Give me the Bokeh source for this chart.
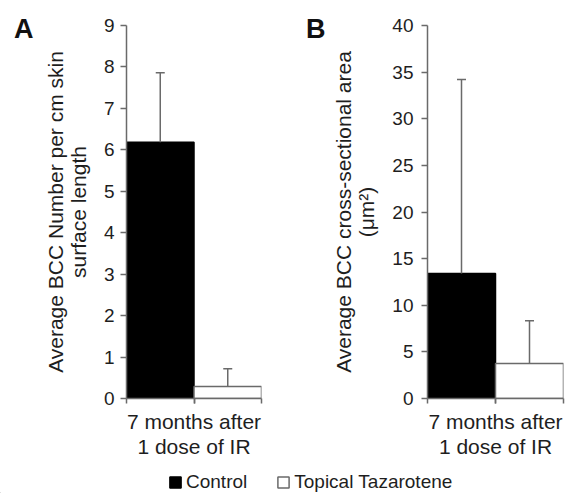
from bokeh.plotting import figure
from bokeh.models import (Range1d, FixedTicker, ColumnDataSource, Whisker, TeeHead,
                          Legend, LegendItem, LinearAxis)
from bokeh.layouts import column, row
from bokeh.embed import file_html
from bokeh.resources import INLINE

# ---- data ----
groups = ["Control", "Topical Tazarotene"]
category_label = "7 months after\n1 dose of IR"
a_mean = [6.18, 0.29]
a_sd = [1.68, 0.43]
b_mean = [13.4, 3.75]
b_sd = [20.8, 4.6]
a_ticks = [0, 1, 2, 3, 4, 5, 6, 7, 8, 9]
b_ticks = [0, 5, 10, 15, 20, 25, 30, 35, 40]
a_label = "Average BCC Number per cm skin\nsurface length"
b_label = "Average BCC cross-sectional area\n(\u03bcm\u00b2)"
panel_letters = ["A", "B"]
fill_colors = ["#000000", "#ffffff"]
edge_colors = ["#000000", "#6a6a6a"]

FONT = "Liberation Sans"
TXT = "#1e1e1e"
AX = "#6a6a6a"
FIG_H = 468


def make_source(mean, sd):
    return ColumnDataSource(dict(
        x=[i + 0.5 for i in range(len(groups))],
        mean=mean,
        top=[m + s for m, s in zip(mean, sd)],
        fill=fill_colors,
        edge=edge_colors,
        name=groups,
    ))


def panel(mean, sd, ticks, ylabel, letter, width, bl, br, bt,
          label_standoff, tick_standoff, letter_standoff):
    src = make_source(mean, sd)
    p = figure(width=width, height=FIG_H, x_range=Range1d(0, len(groups)),
               y_range=Range1d(ticks[0], ticks[-1]), toolbar_location=None,
               output_backend="svg", min_border_left=bl, min_border_right=br,
               min_border_top=bt, min_border_bottom=FIG_H - bt - 374)
    p.outline_line_color = None
    p.grid.visible = False
    p.vbar(x="x", top="mean", bottom=0, width=1.0, source=src,
           fill_color="fill", line_color="edge", line_width=1.5)
    w = Whisker(source=src, base="x", lower="mean", upper="top", dimension="height",
                line_color=AX, line_width=1.5, lower_head=None,
                upper_head=TeeHead(size=9, line_color=AX, line_width=1.5),
                level="overlay")
    p.add_layout(w)

    # x axis: tick marks at bar edges, one centred category label
    xa = p.xaxis[0]
    xa.ticker = FixedTicker(ticks=[len(groups) / 2],
                            minor_ticks=list(range(len(groups) + 1)))
    xa.major_label_overrides = {len(groups) / 2: category_label}
    xa.major_label_text_font = FONT
    xa.major_label_text_font_size = "21px"
    xa.major_label_text_line_height = 1.12
    xa.major_label_text_color = TXT
    xa.major_label_standoff = 6
    xa.major_tick_out = 5
    xa.major_tick_in = 0
    xa.minor_tick_out = 5
    xa.minor_tick_in = 0
    xa.axis_line_color = AX
    xa.axis_line_width = 1.5
    xa.major_tick_line_color = AX
    xa.major_tick_line_width = 1.5
    xa.minor_tick_line_color = AX
    xa.minor_tick_line_width = 1.5

    ya = p.yaxis[0]
    ya.ticker = FixedTicker(ticks=ticks)
    ya.minor_tick_line_color = None
    ya.major_tick_out = 6
    ya.major_tick_in = 0
    ya.axis_line_color = AX
    ya.axis_line_width = 1.5
    ya.major_tick_line_color = AX
    ya.major_tick_line_width = 1.5
    ya.major_label_text_font = FONT
    ya.major_label_text_font_size = "19px"
    ya.major_label_text_color = TXT
    ya.major_label_standoff = tick_standoff
    ya.axis_label = ylabel
    ya.axis_label_text_font = FONT
    ya.axis_label_text_font_size = "21px"
    ya.axis_label_text_font_style = "normal"
    ya.axis_label_text_line_height = 1.0
    ya.axis_label_text_color = TXT
    ya.axis_label_standoff = label_standoff

    # panel letter: outer left axis carrying a single label at the top
    p.extra_y_ranges = {"letter": Range1d(0, 1)}
    la = LinearAxis(y_range_name="letter", ticker=FixedTicker(ticks=[0.99]),
                    major_label_overrides={0.99: letter})
    la.axis_line_color = None
    la.major_tick_line_color = None
    la.minor_tick_line_color = None
    la.major_tick_out = 0
    la.major_tick_in = 0
    la.major_label_standoff = letter_standoff
    la.major_label_text_font = FONT
    la.major_label_text_font_size = "27px"
    la.major_label_text_font_style = "bold"
    la.major_label_text_color = "#111111"
    p.add_layout(la, "left")
    return p, src


pA, srcA = panel(a_mean, a_sd, a_ticks, a_label, panel_letters[0], 290, 126, 29, 24,
                 11, 6, 7)
pB, srcB = panel(b_mean, b_sd, b_ticks, b_label, panel_letters[1], 284, 137, 11, 25,
                 11, 8, 4)

# legend strip (same bars, drawn out of view, feed the legend glyphs)
pL = figure(width=574, height=493 - FIG_H, x_range=Range1d(100, 101),
            y_range=Range1d(1000, 1001),
            toolbar_location=None, output_backend="svg", min_border=0)
pL.axis.visible = False
pL.grid.visible = False
pL.outline_line_color = None
rl = pL.vbar(x="x", top="mean", bottom=0, width=1.0, source=srcA,
             fill_color="fill", line_color="edge", line_width=1.5)
legend = Legend(items=[LegendItem(label=groups[i], renderers=[rl], index=i)
                       for i in range(len(groups))],
                orientation="horizontal", location=(168, 0),
                border_line_color=None, background_fill_alpha=0,
                padding=0, margin=0, glyph_width=14, glyph_height=14,
                label_standoff=4, spacing=29,
                label_text_font=FONT, label_text_font_size="19px",
                label_text_color=TXT)
pL.add_layout(legend)

layout = column(row(pA, pB), pL)
open("out.html", "w").write(file_html(layout, INLINE))
